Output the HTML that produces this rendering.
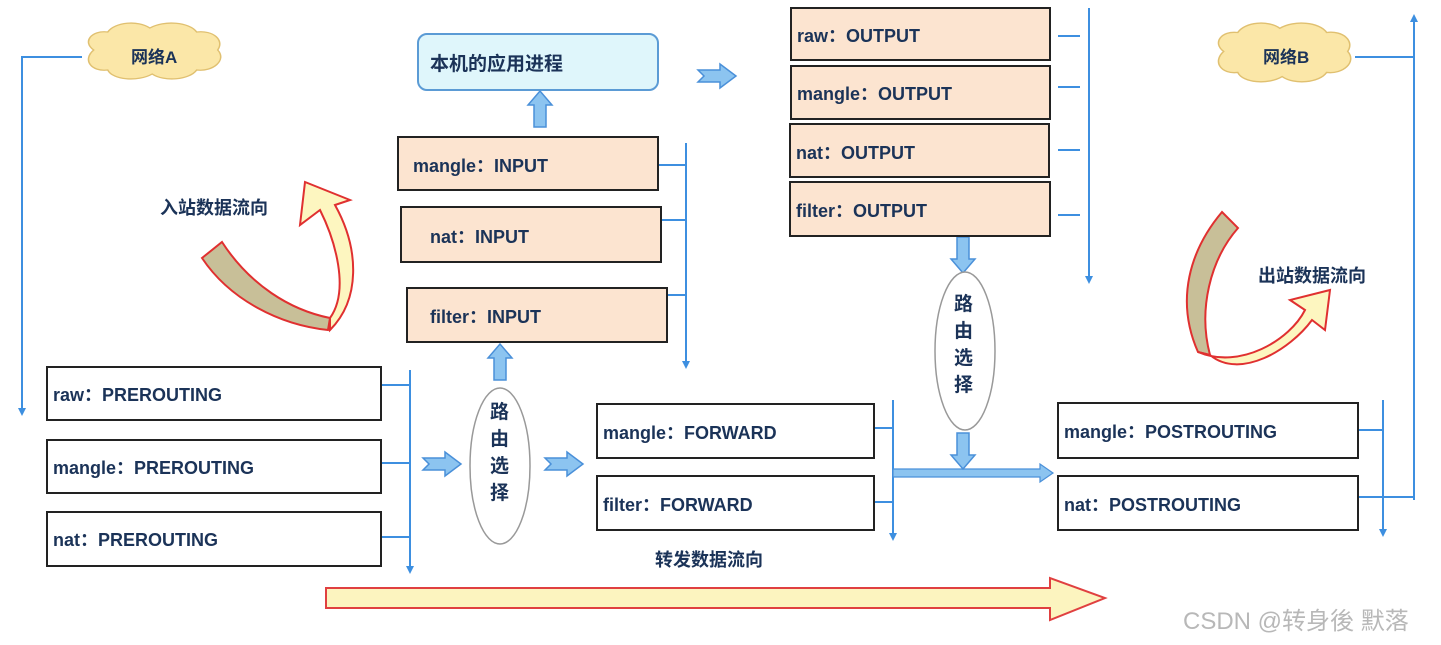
<!DOCTYPE html>
<html><head><meta charset="utf-8"><style>
html,body{margin:0;padding:0;background:#fff;width:1441px;height:645px;overflow:hidden}
svg text{font-family:"Liberation Sans","Noto Sans CJK SC",sans-serif;font-weight:bold;fill:#1b3358}
</style></head><body>
<svg width="1441" height="645" viewBox="0 0 1441 645" xmlns="http://www.w3.org/2000/svg">
<defs>
<marker id="ah" markerWidth="8" markerHeight="8" refX="4" refY="4" orient="auto" markerUnits="userSpaceOnUse"><path d="M0,0 L8,4 L0,8 Z" fill="#3d8fe0"/></marker>
<g id="cloud"><path d="M10,28 C0,20 8,8 22,10 C28,0 48,-2 58,6 C70,-2 92,0 98,10 C112,8 122,18 116,28 C124,38 112,50 98,48 C92,58 70,60 60,52 C48,60 26,58 22,48 C8,50 0,38 10,28 Z" fill="#fbe7a8" stroke="#e0c070" stroke-width="1.3"/></g>
<g id="barr"><path d="M0,-6 L22,-6 L22,-12 L38,0 L22,12 L22,6 L0,6 L6,0 Z" fill="#8cc4f0" stroke="#4a90d9" stroke-width="1.5"/></g>
<g id="darr"><path d="M-6,0 L6,0 L6,22 L12,22 L0,36 L-12,22 L-6,22 Z" fill="#8cc4f0" stroke="#4a90d9" stroke-width="1.5"/></g>
</defs>
<g stroke="#3d8fe0" stroke-width="2" fill="none">
<path d="M82,57 L22,57 L22,412" marker-end="url(#ah)"/>
<path d="M1355,57 L1414,57"/>
<path d="M1414,500 L1414,18" marker-end="url(#ah)"/>
<path d="M1352,497 L1414,497"/>
<path d="M686,143 L686,365" marker-end="url(#ah)"/>
<path d="M658,165 L686,165 M661,220 L686,220 M667,295 L686,295"/>
<path d="M1089,8 L1089,280" marker-end="url(#ah)"/>
<path d="M1058,36 L1080,36 M1058,87 L1080,87 M1058,150 L1080,150 M1058,215 L1080,215"/>
<path d="M410,370 L410,570" marker-end="url(#ah)"/>
<path d="M381,385 L410,385 M381,463 L410,463 M381,537 L410,537"/>
<path d="M893,400 L893,537" marker-end="url(#ah)"/>
<path d="M874,428 L893,428 M874,502 L893,502"/>
<path d="M1383,400 L1383,533" marker-end="url(#ah)"/>
<path d="M1358,430 L1383,430 M1358,497 L1383,497"/>
</g>
<path d="M893,469 L1040,469 L1040,464 L1053,473 L1040,482 L1040,477 L893,477 Z" fill="#8cc4f0" stroke="#4a90d9" stroke-width="1.2"/>
<use href="#cloud" transform="translate(82,22) scale(1.17,1.0)"/>
<text x="131" y="63" font-size="17">网络A</text>
<use href="#cloud" transform="translate(1212,22) scale(1.17,1.05)"/>
<text x="1263" y="63" font-size="17">网络B</text>
<rect x="418" y="34" width="240" height="56" rx="9" fill="#dff6fb" stroke="#5b9bd5" stroke-width="2"/>
<text x="430" y="70" font-size="19">本机的应用进程</text>
<use href="#barr" x="698" y="76"/>
<use href="#darr" transform="translate(540,127) rotate(180)"/>
<use href="#darr" transform="translate(500,380) rotate(180)"/>
<use href="#darr" x="963" y="237"/>
<use href="#darr" x="963" y="433"/>
<use href="#barr" x="423" y="464"/>
<use href="#barr" x="545" y="464"/>
<g stroke="#222" stroke-width="2">
<rect x="398" y="137" width="260" height="53" fill="#fce4d0"/>
<rect x="401" y="207" width="260" height="55" fill="#fce4d0"/>
<rect x="407" y="288" width="260" height="54" fill="#fce4d0"/>
<rect x="791" y="8" width="259" height="52" fill="#fce4d0"/>
<rect x="791" y="66" width="259" height="53" fill="#fce4d0"/>
<rect x="790" y="124" width="259" height="53" fill="#fce4d0"/>
<rect x="790" y="182" width="260" height="54" fill="#fce4d0"/>
<rect x="47" y="367" width="334" height="53" fill="#fff"/>
<rect x="47" y="440" width="334" height="53" fill="#fff"/>
<rect x="47" y="512" width="334" height="54" fill="#fff"/>
<rect x="597" y="404" width="277" height="54" fill="#fff"/>
<rect x="597" y="476" width="277" height="54" fill="#fff"/>
<rect x="1058" y="403" width="300" height="55" fill="#fff"/>
<rect x="1058" y="476" width="300" height="54" fill="#fff"/>
</g>
<g font-size="18">
<text x="413" y="172">mangle：INPUT</text>
<text x="430" y="243">nat：INPUT</text>
<text x="430" y="323">filter：INPUT</text>
<text x="797" y="42">raw：OUTPUT</text>
<text x="797" y="100">mangle：OUTPUT</text>
<text x="796" y="159">nat：OUTPUT</text>
<text x="796" y="217">filter：OUTPUT</text>
<text x="53" y="401">raw：PREROUTING</text>
<text x="53" y="474">mangle：PREROUTING</text>
<text x="53" y="546">nat：PREROUTING</text>
<text x="603" y="439">mangle：FORWARD</text>
<text x="603" y="511">filter：FORWARD</text>
<text x="1064" y="438">mangle：POSTROUTING</text>
<text x="1064" y="511">nat：POSTROUTING</text>
</g>
<ellipse cx="500" cy="466" rx="30" ry="78" fill="#fff" stroke="#999" stroke-width="1.5"/>
<ellipse cx="965" cy="351" rx="30" ry="79" fill="#fff" stroke="#999" stroke-width="1.5"/>
<g font-size="19">
<text x="490" y="418">路</text><text x="490" y="445">由</text><text x="490" y="472">选</text><text x="490" y="499">择</text>
<text x="954" y="310">路</text><text x="954" y="337">由</text><text x="954" y="364">选</text><text x="954" y="391">择</text>
</g>
<text x="160" y="214" font-size="18">入站数据流向</text>
<text x="1258" y="282" font-size="18">出站数据流向</text>
<text x="655" y="566" font-size="18">转发数据流向</text>
<path d="M202,258 L222,242 C250,285 290,310 330,318 L328,330 C280,325 230,300 202,258 Z" fill="#c8bf98" stroke="#e03030" stroke-width="2"/>
<path d="M330,318 C350,290 335,240 320,210 L300,225 L305,182 L350,200 L335,205 C360,250 360,300 330,330 Z" fill="#fdf6c0" stroke="#e03030" stroke-width="2"/>
<path d="M1222,212 L1238,228 C1210,260 1198,310 1210,355 L1198,352 C1175,300 1190,250 1222,212 Z" fill="#c8bf98" stroke="#e03030" stroke-width="2"/>
<path d="M1198,352 C1240,370 1290,340 1305,310 L1290,300 L1330,290 L1325,330 L1312,320 C1290,350 1240,380 1210,355 Z" fill="#fdf6c0" stroke="#e03030" stroke-width="2"/>
<path d="M326,588 L1050,588 L1050,578 L1105,598 L1050,620 L1050,608 L326,608 Z" fill="#fcf4bf" stroke="#e04040" stroke-width="2"/>
<text x="1183" y="629" font-size="24" style="font-weight:normal;fill:#b8b8b8">CSDN @转身後 默落</text>
</svg>
</body></html>
